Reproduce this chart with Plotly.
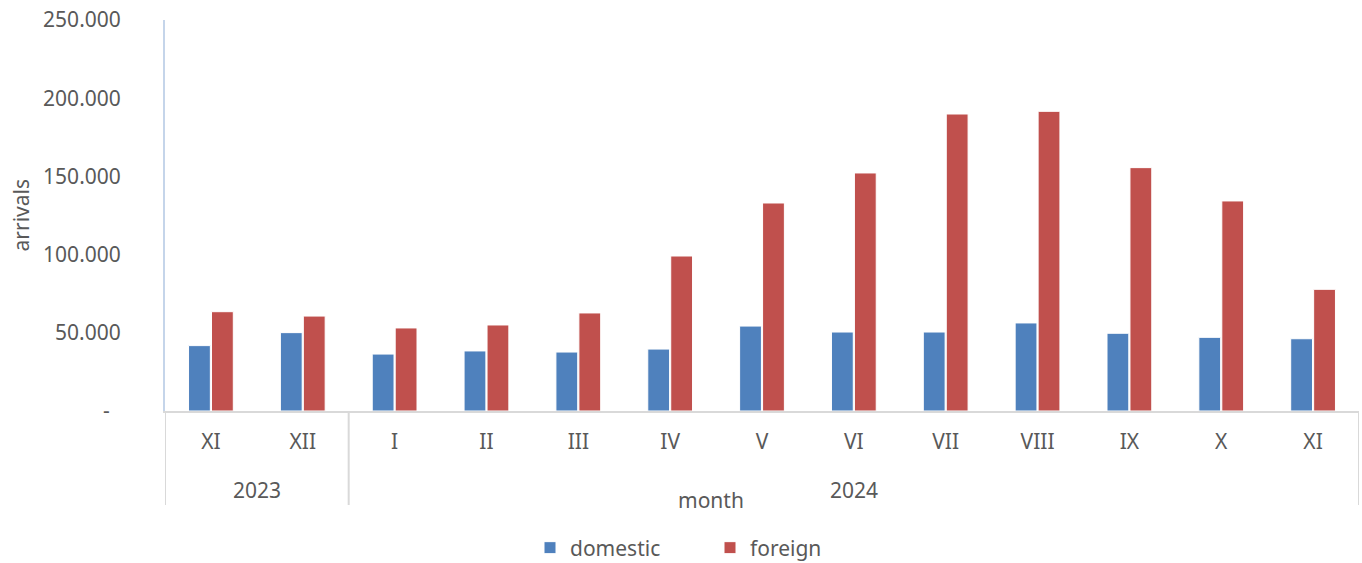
import plotly.graph_objects as go

years = ["2023", "2024"]
year_counts = [2, 11]
months = ["XI", "XII", "I", "II", "III", "IV", "V", "VI", "VII", "VIII", "IX", "X", "XI"]
domestic = [41800, 50100, 36400, 38400, 37700, 39600, 54300, 50500, 50500, 56300, 49700, 47100, 46200]
foreign = [63500, 60700, 53100, 55000, 62700, 99100, 133000, 152200, 189900, 191600, 155600, 134300, 77800]
y_ticks = [0, 50000, 100000, 150000, 200000, 250000]
y_labels = ["-\u00a0\u00a0", "50.000", "100.000", "150.000", "200.000", "250.000"]

FONT = "Noto Sans"
GREY = "#595959"
W, H = 1362, 563
L, R, T, B = 165, 3, 20, 152
PW, PH = W - L - R, H - T - B

def px_x(p):
    return (p - L) / PW

def px_y(p):
    return (H - B - p) / PH

idx = list(range(len(months)))
tfont = dict(family=FONT, size=21, color=GREY)

fig = go.Figure()
fig.add_trace(go.Bar(x=idx, y=domestic, name="domestic",
                     marker=dict(color="#4f81bd", line=dict(color="white", width=1))))
fig.add_trace(go.Bar(x=idx, y=foreign, name="foreign",
                     marker=dict(color="#c0504d", line=dict(color="white", width=1))))

fig.update_layout(
    width=W, height=H,
    margin=dict(l=L, r=R, t=T, b=B),
    plot_bgcolor="white", paper_bgcolor="white",
    font=tfont,
    barmode="group", bargap=0.5, bargroupgap=0.05,
    showlegend=True,
    legend=dict(orientation="h", xref="container", yref="container",
                x=710 / W, xanchor="center", y=(H - 548) / H, yanchor="middle",
                entrywidth=135, entrywidthmode="pixels", font=tfont,
                itemwidth=30),
    xaxis=dict(range=[-0.5, len(months) - 0.5], tickvals=idx, ticktext=months,
               showline=True, linecolor="#d9d9d9", linewidth=2, automargin=False,
               showgrid=False, ticks="", ticklabelstandoff=11, zeroline=False,
               tickfont=tfont),
    yaxis=dict(range=[0, 250000], tickvals=y_ticks, ticktext=y_labels, automargin=False,
               showgrid=False, showline=True, linecolor="#c5d5ea", linewidth=2,
               ticks="", ticklabelstandoff=38, zeroline=False,
               tickfont=tfont),
)

# year group labels and dividers
start = 0
bounds = [-0.5]
for yr, n in zip(years, year_counts):
    centre = start + (n - 1) / 2
    fig.add_annotation(text=yr, x=centre, xref="x", y=px_y(490), yref="paper",
                       showarrow=False, font=tfont,
                       xanchor="center", yanchor="middle")
    start += n
    bounds.append(start - 0.5)
for b in bounds:
    fig.add_shape(type="line", x0=b, x1=b, xref="x", y0=0, y1=px_y(505), yref="paper",
                  line=dict(color="#d9d9d9", width=2))

fig.add_annotation(text="month", xref="paper", yref="paper", x=px_x(711),
                   y=px_y(500), showarrow=False, font=tfont,
                   xanchor="center", yanchor="middle")
fig.add_annotation(text="arrivals", xref="paper", yref="paper", x=px_x(20),
                   y=0.5, textangle=-90, showarrow=False, font=tfont,
                   xanchor="center", yanchor="middle")

fig.write_html("out.html", config={"displayModeBar": False},
               post_script="document.body.style.margin='0px';document.body.style.overflow='hidden';")
